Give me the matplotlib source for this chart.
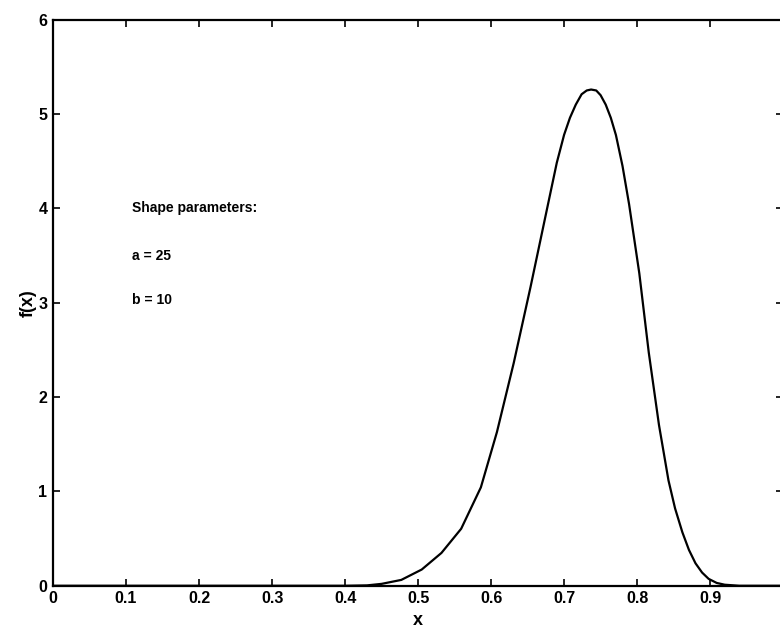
import matplotlib
matplotlib.use("Agg")
import matplotlib.pyplot as plt

plt.rcParams['font.family'] = ['Liberation Sans', 'DejaVu Sans']

# valores (densidad beta, a = 25, b = 10)
x_vals = [0.0, 0.40, 0.43, 0.45, 0.477, 0.505, 0.532, 0.559, 0.586, 0.608,
          0.631, 0.654, 0.676, 0.690, 0.700, 0.708, 0.716, 0.724, 0.731,
          0.737, 0.744, 0.750, 0.757, 0.764, 0.771, 0.780, 0.789, 0.803,
          0.816, 0.830, 0.843, 0.852, 0.862, 0.871, 0.880, 0.889, 0.898,
          0.909, 0.920, 0.94, 1.0]
y_vals = [0.0, 0.0, 0.004, 0.02, 0.062, 0.172, 0.348, 0.604, 1.043, 1.629,
          2.361, 3.166, 3.972, 4.484, 4.78, 4.960, 5.10, 5.21, 5.25,
          5.26, 5.25, 5.20, 5.10, 4.96, 4.777, 4.45, 4.045, 3.313,
          2.471, 1.702, 1.116, 0.82, 0.567, 0.38, 0.238, 0.14, 0.073,
          0.03, 0.011, 0.0, 0.0]

texto = ["Shape parameters:", "a = 25", "b = 10"]
texto_y = [4.0, 3.5, 3.03]

x_ticks = [0, 0.1, 0.2, 0.3, 0.4, 0.5, 0.6, 0.7, 0.8, 0.9, 1]
x_labels = ["0", "0.1", "0.2", "0.3", "0.4", "0.5", "0.6", "0.7", "0.8", "0.9", "1"]
y_ticks = [0, 1, 2, 3, 4, 5, 6]

fig = plt.figure(figsize=(7.8, 6.36), dpi=100)
ax = fig.add_axes([0.068, 0.079, 0.936, 0.89])

ax.plot(x_vals, y_vals, color='black', linewidth=1.6)

for t, ty in zip(texto, texto_y):
    ax.text(0.108, ty, t, fontsize=10, fontweight='bold', va='center', ha='left')

ax.set_xlim(0, 1)
ax.set_ylim(0, 6)
ax.set_xticks(x_ticks)
ax.set_xticklabels(x_labels)
ax.set_yticks(y_ticks)
ax.tick_params(direction='in', top=True, right=True, length=5, width=1.2,
               labelsize=11.5, pad=4)
for lab in ax.get_xticklabels() + ax.get_yticklabels():
    lab.set_fontweight('bold')
for s in ax.spines.values():
    s.set_linewidth(1.6)

ax.set_xlabel("x", fontsize=13, fontweight='bold', labelpad=4)
ax.set_ylabel("f(x)", fontsize=13, fontweight='bold', labelpad=1)

fig.savefig("out.png", dpi=100)
